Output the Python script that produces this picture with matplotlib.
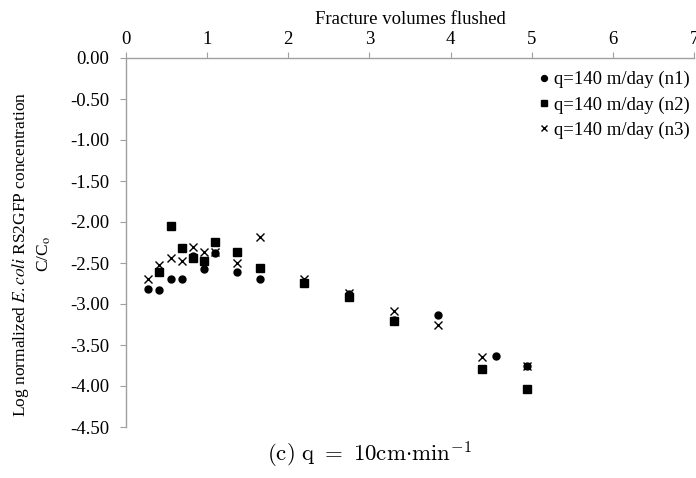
import numpy as np
import matplotlib.pyplot as plt

# ----------------------------------------------------------------------
#  Data (fracture volumes flushed vs log C/Co)
# ----------------------------------------------------------------------
x_n1 = [0.27, 0.41, 0.55, 0.69, 0.83, 0.96, 1.10, 1.37, 1.65, 2.19, 2.75, 3.30, 3.85, 4.56, 4.94]
y_n1 = [-2.82, -2.83, -2.70, -2.70, -2.42, -2.57, -2.38, -2.61, -2.70, -2.73, -2.88, -3.20, -3.13, -3.64, -3.76]

x_n2 = [0.41, 0.55, 0.69, 0.83, 0.96, 1.10, 1.37, 1.65, 2.19, 2.75, 3.30, 4.39, 4.94]
y_n2 = [-2.61, -2.05, -2.32, -2.44, -2.47, -2.24, -2.36, -2.56, -2.74, -2.92, -3.21, -3.79, -4.04]

x_n3 = [0.27, 0.41, 0.55, 0.69, 0.83, 0.96, 1.10, 1.37, 1.65, 2.19, 2.75, 3.30, 3.85, 4.39, 4.94]
y_n3 = [-2.69, -2.52, -2.44, -2.47, -2.31, -2.36, -2.36, -2.50, -2.18, -2.70, -2.87, -3.08, -3.26, -3.65, -3.76]

labels = ['q=140 m/day (n1)', 'q=140 m/day (n2)', 'q=140 m/day (n3)']

plt.rcParams['font.family'] = 'Liberation Serif'
plt.rcParams['mathtext.fontset'] = 'stix'

fig = plt.figure(figsize=(6.96, 4.78), dpi=100)
ax = fig.add_axes([126/696, 1 - 427/478, (694-126)/696, (427-58)/478])

ax.plot(x_n1, y_n1, 'o', color='black', ms=5, label=labels[0], zorder=3)
ax.plot(x_n2, y_n2, 's', color='black', ms=5.5, label=labels[1], zorder=2)
ax.plot(x_n3, y_n3, 'x', color='black', ms=5.5, mew=1.0, label=labels[2], zorder=4)

ax.set_xlim(0, 7)
ax.set_ylim(-4.5, 0)
ax.set_xticks(np.arange(0, 8, 1))
ax.set_yticks(np.arange(-4.5, 0.01, 0.5))
ax.set_yticklabels([f'{v:.2f}' for v in np.arange(-4.5, 0.01, 0.5)])
ax.xaxis.tick_top()
ax.xaxis.set_label_position('top')

for s in ['right', 'bottom']:
    ax.spines[s].set_visible(False)
for s in ['left', 'top']:
    ax.spines[s].set_color('#a0a0a0')
    ax.spines[s].set_linewidth(1.0)
ax.tick_params(direction='out', length=4.3, color='#a0a0a0', labelsize=13.5)
ax.tick_params(axis='y', pad=8)
ax.tick_params(axis='x', pad=3)

ax.set_xlabel('Fracture volumes flushed', fontsize=13.5, labelpad=5)
ax.set_ylabel('Log normalized $\\it{E.coli}$ RS2GFP concentration\nC/C$_\\mathrm{o}$',
              fontsize=12.5, linespacing=1.35)
ax.yaxis.set_label_coords(-0.128, 0.469)

leg = ax.legend(loc='upper right', bbox_to_anchor=(1.012, 0.995), frameon=False, fontsize=13.5,
                handletextpad=0.1, handlelength=0.8, labelspacing=0.42, borderaxespad=0.2,
                markerscale=0.85)

fig.text(369/696, 1 - 455/478, r'$\mathrm{(c)\ q\ =\ 10cm{\cdot}min^{-1}}$', ha='center', va='center',
         fontsize=16.5, math_fontfamily='cm')

fig.savefig('out.png', dpi=100)
